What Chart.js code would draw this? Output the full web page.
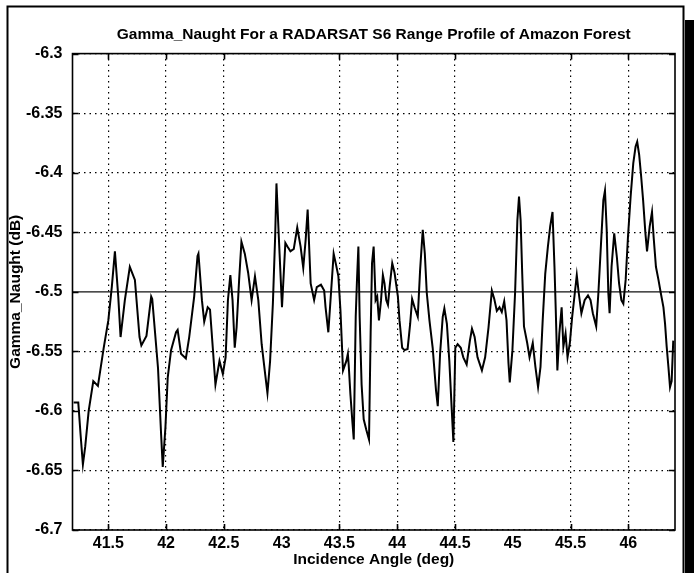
<!DOCTYPE html>
<html>
<head>
<meta charset="utf-8">
<script src="https://cdn.jsdelivr.net/npm/chart.js@4.4.1/dist/chart.umd.min.js"></script>
<style>
  html, body { margin: 0; padding: 0; background: #fff; }
</style>
</head>
<body>
<canvas id="profile" width="694" height="573"></canvas>
<script>
// incidence angle (deg) and gamma-naught (dB) along the range profile
var angles = [
  41.20, 41.24, 41.26, 41.28, 41.30, 41.33, 41.37, 41.41, 41.46, 41.50,
  41.53, 41.557, 41.586, 41.606, 41.643, 41.686, 41.73, 41.77, 41.786, 41.83,
  41.871, 41.88, 41.93, 41.957, 41.971, 41.994, 42.014, 42.043, 42.086, 42.10,
  42.129, 42.171, 42.20, 42.243, 42.272, 42.28, 42.31, 42.33, 42.36, 42.38,
  42.404, 42.427, 42.462, 42.491, 42.515, 42.535, 42.556, 42.575, 42.594, 42.61,
  42.632, 42.652, 42.681, 42.71, 42.74, 42.769, 42.798, 42.827, 42.857, 42.877,
  42.90, 42.924, 42.944, 42.955, 42.982, 43.003, 43.032, 43.05, 43.076, 43.105,
  43.135, 43.164, 43.187, 43.208, 43.225, 43.251, 43.281, 43.304, 43.34, 43.368,
  43.38, 43.404, 43.427, 43.45, 43.47, 43.491, 43.509, 43.531, 43.56, 43.573,
  43.58, 43.595, 43.612, 43.624, 43.641, 43.652, 43.664, 43.675, 43.692, 43.71,
  43.733, 43.756, 43.77, 43.782, 43.796, 43.813, 43.827, 43.842, 43.86, 43.876,
  43.89, 43.905, 43.92, 43.934, 43.957, 43.977, 44.006, 44.02, 44.043, 44.063,
  44.09, 44.112, 44.129, 44.15, 44.178, 44.198, 44.221, 44.239, 44.256, 44.279,
  44.307, 44.336, 44.351, 44.371, 44.394, 44.408, 44.43, 44.451, 44.471, 44.486,
  44.503, 44.523, 44.55, 44.572, 44.601, 44.629, 44.647, 44.67, 44.695, 44.733,
  44.761, 44.79, 44.819, 44.84, 44.862, 44.885, 44.905, 44.926, 44.946, 44.963,
  44.974, 44.997, 45.02, 45.04, 45.054, 45.068, 45.082, 45.097, 45.125, 45.145,
  45.173, 45.196, 45.219, 45.24, 45.259, 45.281, 45.304, 45.324, 45.344, 45.361,
  45.372, 45.386, 45.403, 45.423, 45.438, 45.457, 45.474, 45.494, 45.514, 45.537,
  45.554, 45.571, 45.594, 45.622, 45.651, 45.673, 45.693, 45.722, 45.741, 45.764,
  45.784, 45.798, 45.813, 45.827, 45.838, 45.855, 45.878, 45.901, 45.92, 45.94,
  45.957, 45.977, 45.997, 46.02, 46.043, 46.063, 46.077, 46.094, 46.111, 46.128,
  46.148, 46.162, 46.185, 46.205, 46.219, 46.239, 46.261, 46.281, 46.304, 46.318,
  46.332, 46.347, 46.361, 46.375, 46.389
];
var gammaNaught = [
  -6.593, -6.593, -6.620, -6.645, -6.630, -6.600, -6.575, -6.579, -6.547, -6.524,
  -6.496, -6.466, -6.504, -6.538, -6.507, -6.479, -6.490, -6.538, -6.545, -6.537,
  -6.504, -6.506, -6.564, -6.620, -6.647, -6.614, -6.572, -6.549, -6.534, -6.532,
  -6.552, -6.556, -6.538, -6.504, -6.470, -6.468, -6.507, -6.525, -6.513, -6.515,
  -6.547, -6.578, -6.558, -6.569, -6.555, -6.507, -6.486, -6.507, -6.547, -6.530,
  -6.490, -6.458, -6.468, -6.484, -6.507, -6.487, -6.507, -6.544, -6.569, -6.585,
  -6.558, -6.510, -6.453, -6.409, -6.468, -6.513, -6.459, -6.462, -6.466, -6.464,
  -6.446, -6.462, -6.480, -6.456, -6.431, -6.493, -6.507, -6.496, -6.494, -6.499,
  -6.513, -6.534, -6.501, -6.468, -6.477, -6.487, -6.516, -6.566, -6.558, -6.552,
  -6.561, -6.586, -6.609, -6.624, -6.521, -6.490, -6.462, -6.521, -6.578, -6.607,
  -6.616, -6.624, -6.535, -6.476, -6.462, -6.507, -6.504, -6.524, -6.507, -6.486,
  -6.493, -6.507, -6.511, -6.496, -6.476, -6.484, -6.504, -6.524, -6.547, -6.549,
  -6.548, -6.527, -6.506, -6.513, -6.521, -6.482, -6.448, -6.468, -6.501, -6.524,
  -6.547, -6.583, -6.596, -6.552, -6.521, -6.514, -6.527, -6.558, -6.597, -6.626,
  -6.547, -6.544, -6.547, -6.555, -6.561, -6.541, -6.531, -6.538, -6.555, -6.566,
  -6.555, -6.530, -6.499, -6.506, -6.516, -6.513, -6.517, -6.508, -6.524, -6.560,
  -6.576, -6.549, -6.501, -6.440, -6.420, -6.440, -6.485, -6.529, -6.543, -6.555,
  -6.543, -6.563, -6.580, -6.563, -6.524, -6.485, -6.462, -6.445, -6.433, -6.479,
  -6.515, -6.566, -6.535, -6.513, -6.546, -6.535, -6.555, -6.543, -6.521, -6.501,
  -6.486, -6.501, -6.518, -6.507, -6.503, -6.507, -6.518, -6.529, -6.501, -6.459,
  -6.423, -6.415, -6.448, -6.501, -6.518, -6.479, -6.451, -6.471, -6.493, -6.507,
  -6.510, -6.490, -6.454, -6.420, -6.392, -6.378, -6.374, -6.385, -6.403, -6.423,
  -6.451, -6.466, -6.445, -6.433, -6.454, -6.479, -6.490, -6.501, -6.513, -6.527,
  -6.546, -6.563, -6.580, -6.575, -6.541
];
var meanLevel = -6.5;
var angleMin = 41.19, angleMax = 46.404;
var gammaMin = -6.7, gammaMax = -6.3;
// no grid line or tick is drawn at these angles
var bareAngles = [43, 45];

var fontFamily = "'Liberation Sans', Arial, Helvetica, sans-serif";
var tickFont = { family: fontFamily, size: 16, weight: 'bold' };
var titleFont = { family: fontFamily, size: 15.5, weight: 'bold' };

function isBare(v) {
  return bareAngles.some(function (a) { return Math.abs(a - v) < 1e-6; });
}
function fmt(v) { return String(Number(v.toFixed(2))); }

// white page, outer frame and the black drop shadow on the right
var figureFrame = {
  id: 'figureFrame',
  beforeDraw: function (chart) {
    var c = chart.ctx;
    c.save();
    c.fillStyle = '#fff';
    c.fillRect(0, 0, chart.width, chart.height);
    c.fillStyle = '#000';
    c.fillRect(685, 20, chart.width - 685, chart.height - 20);
    c.strokeStyle = '#000';
    c.lineWidth = 2;
    c.strokeRect(7.5, 6.5, 676, chart.height + 10);
    c.restore();
  },
  afterDraw: function (chart) {
    var c = chart.ctx, a = chart.chartArea, sx = chart.scales.x, sy = chart.scales.y;
    var len = 6;
    c.save();
    c.strokeStyle = '#000';
    c.lineWidth = 1.6;
    c.strokeRect(a.left, a.top, a.right - a.left, a.bottom - a.top);
    c.beginPath();
    sx.ticks.forEach(function (t) {
      if (isBare(t.value)) return;
      var px = Math.round(sx.getPixelForValue(t.value)) + 0.5;
      c.moveTo(px, a.bottom); c.lineTo(px, a.bottom - len);
      c.moveTo(px, a.top); c.lineTo(px, a.top + len);
    });
    sy.ticks.forEach(function (t) {
      var py = Math.round(sy.getPixelForValue(t.value)) + 0.5;
      c.moveTo(a.left, py); c.lineTo(a.left + len, py);
      c.moveTo(a.right, py); c.lineTo(a.right - len, py);
    });
    c.stroke();
    c.restore();
  }
};

var profile = angles.map(function (a, i) { return { x: a, y: gammaNaught[i] }; });
var meanLine = [{ x: angleMin, y: meanLevel }, { x: angleMax, y: meanLevel }];

new Chart(document.getElementById('profile').getContext('2d'), {
  type: 'line',
  data: {
    datasets: [
      {
        label: 'Gamma_Naught',
        data: profile,
        borderColor: '#000',
        borderWidth: 2,
        pointRadius: 0,
        tension: 0,
        fill: false
      },
      {
        label: 'Mean',
        data: meanLine,
        borderColor: '#111',
        borderWidth: 1.2,
        pointRadius: 0,
        fill: false
      }
    ]
  },
  options: {
    responsive: false,
    animation: false,
    events: [],
    layout: { padding: { left: 0, right: 19, top: 0, bottom: 0 } },
    plugins: {
      legend: { display: false },
      tooltip: { enabled: false },
      title: {
        display: true,
        fullSize: false,
        text: 'Gamma_Naught For a RADARSAT S6 Range Profile of Amazon Forest',
        color: '#000',
        font: titleFont,
        padding: { top: 25, bottom: 10 }
      }
    },
    scales: {
      x: {
        type: 'linear',
        min: angleMin,
        max: angleMax,
        afterFit: function (s) { s.height = 43; },
        border: { display: false, dash: [1.5, 4] },
        grid: {
          drawTicks: false,
          lineWidth: 1.2,
          color: function (ctx) {
            var v = ctx.tick ? ctx.tick.value : null;
            if (v === null || isBare(v)) return 'rgba(0,0,0,0)';
            return '#000';
          }
        },
        ticks: {
          stepSize: 0.5,
          includeBounds: false,
          autoSkip: false,
          maxRotation: 0,
          color: '#000',
          font: tickFont,
          padding: 4,
          callback: function (v) { return fmt(v); }
        },
        title: {
          display: true,
          text: 'Incidence Angle (deg)',
          color: '#000',
          font: titleFont,
          padding: { top: 0, bottom: 4 }
        }
      },
      y: {
        min: gammaMin,
        max: gammaMax,
        afterFit: function (s) { s.width = 72.5; },
        border: { display: false, dash: [1.5, 4] },
        grid: {
          drawTicks: false,
          lineWidth: 1.2,
          color: function (ctx) {
            var v = ctx.tick ? ctx.tick.value : null;
            if (v === null || Math.abs(v - meanLevel) < 1e-6) return 'rgba(0,0,0,0)';
            return '#000';
          }
        },
        ticks: {
          stepSize: 0.05,
          color: '#000',
          font: tickFont,
          padding: 10,
          callback: function (v) { return fmt(v); }
        },
        title: {
          display: true,
          text: 'Gamma_Naught (dB)',
          color: '#000',
          font: titleFont,
          padding: { top: 6, bottom: 0 }
        }
      }
    }
  },
  plugins: [figureFrame]
});
</script>
</body>
</html>
